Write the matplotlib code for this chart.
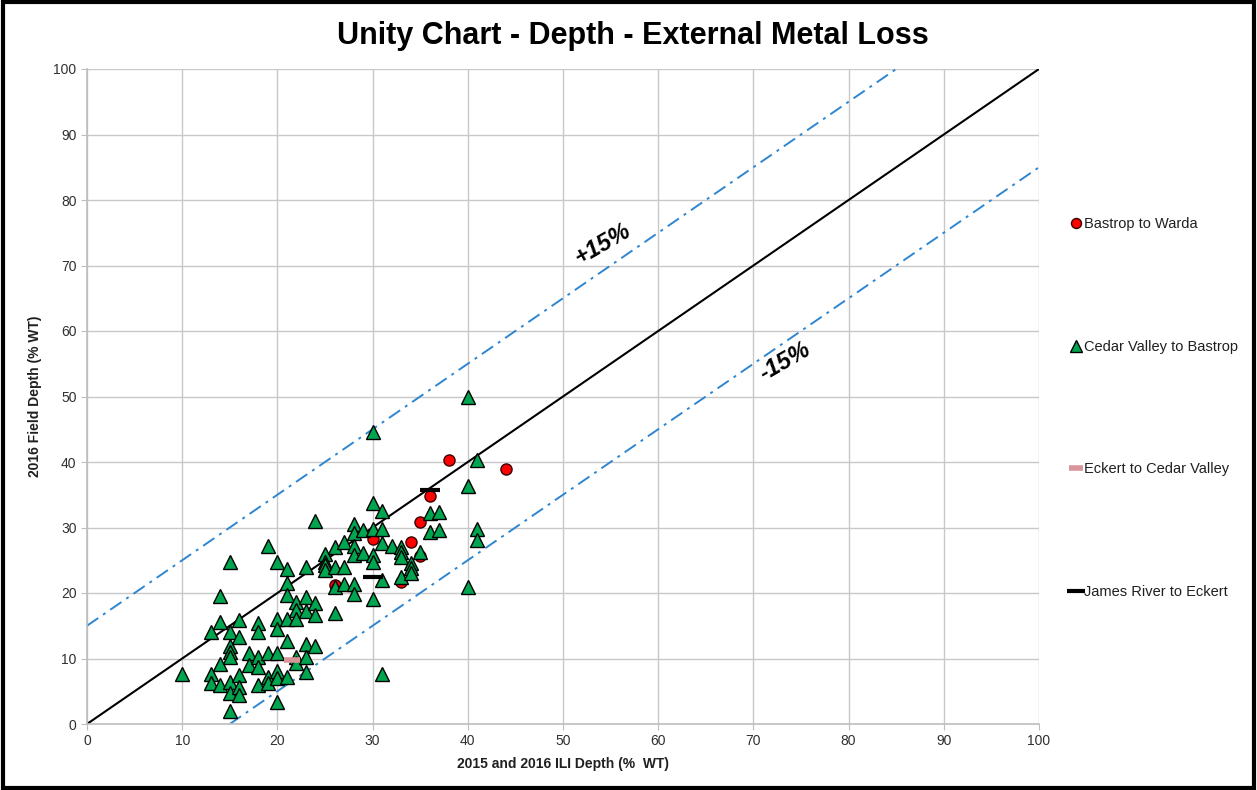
import numpy as np
import matplotlib
matplotlib.use("Agg")
import matplotlib.pyplot as plt
from matplotlib.patches import Rectangle

plt.rcParams['font.family'] = ['Liberation Sans', 'DejaVu Sans']

# Bastrop to Warda (red circles)
bw_x = [26, 30, 33, 34, 35, 35, 36, 38, 44]
bw_y = [21.2, 28.2, 21.7, 27.8, 25.7, 30.8, 34.8, 40.3, 39.0]

# Cedar Valley to Bastrop (green triangles)
cv_x = [10,
        13, 13, 13,
        14, 14, 14, 14,
        15, 15, 15, 15, 15, 15, 15, 15,
        16, 16, 16, 16, 16,
        17, 17,
        18, 18, 18, 18, 18,
        19, 19, 19, 19,
        20, 20, 20, 20, 20, 20, 20,
        21, 21, 21, 21, 21, 21,
        22, 22, 22, 22, 22,
        23, 23, 23, 23, 23, 23,
        24, 24, 24, 24,
        25, 25, 25, 25,
        26, 26, 26, 26,
        27, 27, 27,
        28, 28, 28, 28, 28, 28,
        29, 29,
        30, 30, 30, 30, 30, 30,
        31, 31, 31, 31, 31,
        32,
        33, 33, 33, 33,
        34, 34, 34,
        35,
        36, 36,
        37, 37,
        40, 40, 40,
        41, 41, 41]
cv_y = [7.6,
        14.0, 7.6, 6.3,
        19.5, 15.6, 9.2, 6.0,
        24.7, 14.0, 11.9, 11.0, 10.2, 6.4, 4.7, 2.0,
        15.9, 13.3, 7.5, 5.6, 4.4,
        10.8, 9.0,
        15.4, 14.0, 10.2, 8.7, 6.0,
        27.2, 10.8, 7.2, 6.3,
        24.8, 16.0, 14.5, 10.8, 8.1, 7.0, 3.4,
        23.7, 21.5, 19.7, 16.0, 12.7, 7.2,
        18.6, 17.4, 16.0, 10.2, 9.3,
        24.0, 19.4, 17.3, 12.2, 10.2, 7.9,
        31.0, 18.4, 16.6, 11.9,
        26.0, 24.7, 24.3, 23.5,
        27.0, 23.9, 20.9, 16.9,
        27.8, 24.0, 21.4,
        30.5, 29.2, 27.2, 25.8, 21.4, 19.8,
        29.6, 26.1,
        44.6, 33.7, 29.7, 25.8, 24.8, 19.1,
        32.5, 29.8, 27.6, 22.0, 7.6,
        27.2,
        27.0, 26.3, 25.5, 22.4,
        24.6, 23.8, 23.0,
        26.3,
        32.2, 29.3,
        32.4, 29.6,
        50.0, 36.3, 20.9,
        40.3, 29.7, 28.1]

# Eckert to Cedar Valley
ec_x = [21.5]
ec_y = [9.8]

# James River to Eckert
jr_x = [30, 36]
jr_y = [22.5, 35.8]

ticks = list(range(0, 101, 10))
unity = [0, 100]

fig = plt.figure(figsize=(12.57, 7.90), dpi=100)
ax = fig.add_axes([87 / 1257, 1 - 724 / 790, (1039 - 87) / 1257, (724 - 69) / 790])

ax.plot(unity, unity, color='black', lw=1.5, zorder=2)
ax.plot([0, 85], [15, 100], color='#2E86D1', lw=1.4, dashes=(7, 3, 1.5, 3), zorder=2)
ax.plot([15, 100], [0, 85], color='#2E86D1', lw=1.4, dashes=(7, 3, 1.5, 3), zorder=2)

ax.plot(bw_x, bw_y, 'o', color='#FF0000', mec='#3a0000', mew=1.0, ms=8,
        label='Bastrop to Warda', zorder=3)
ax.plot(cv_x, cv_y, '^', color='#00A550', mec='black', mew=1.0, ms=9.5,
        label='Cedar Valley to Bastrop', zorder=4)
ax.plot(ec_x, ec_y, '_', color='#D9969A', mew=4, ms=11,
        label='Eckert to Cedar Valley', zorder=5)
ax.plot(jr_x, jr_y, '_', color='black', mew=3, ms=14,
        label='James River to Eckert', zorder=5)

ax.text(54.2, 73.3, '+15%', fontsize=17, fontweight='bold', style='italic',
        rotation=30, ha='center', va='center')
ax.text(73.3, 55.3, '-15%', fontsize=17, fontweight='bold', style='italic',
        rotation=30, ha='center', va='center')

ax.set_xlim(0, 100)
ax.set_ylim(0, 100)
ax.set_xticks(ticks)
ax.set_yticks(ticks)
ax.grid(True, color='#C8C8C8', lw=1.0, zorder=0)
ax.set_axisbelow(True)
for s in ['top', 'right']:
    ax.spines[s].set_visible(False)
for s in ['left', 'bottom']:
    ax.spines[s].set_color('#BEBEBE')
    ax.spines[s].set_linewidth(1.2)
ax.tick_params(colors='#BEBEBE', labelcolor='#303030', labelsize=10, length=4)

ax.set_xlabel('2015 and 2016 ILI Depth (%  WT)', fontsize=10, fontweight='bold',
              color='#202020', labelpad=6)
ax.set_ylabel('2016 Field Depth (% WT)', fontsize=10, fontweight='bold',
              color='#202020', labelpad=8)

fig.text(633 / 1257, 1 - 36 / 790, 'Unity Chart - Depth - External Metal Loss',
         fontsize=22, fontweight='bold', ha='center', va='center')

leg = ax.legend(loc='upper left', bbox_to_anchor=(1058 / 1257, 1 - 204 / 790),
                bbox_transform=fig.transFigure, frameon=False, fontsize=10.5,
                labelspacing=7.45, handlelength=0.6, handletextpad=0.3,
                markerscale=0.9)
for t in leg.get_texts():
    t.set_color('#202020')

fig.add_artist(Rectangle((0.002, 0.003), 0.996, 0.994, transform=fig.transFigure,
                         fill=False, edgecolor='black', lw=3))

fig.savefig('out.png', dpi=100)
